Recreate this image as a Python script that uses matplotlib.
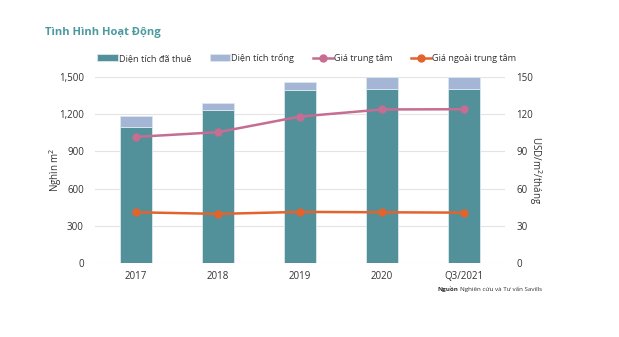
import matplotlib.pyplot as plt
import numpy as np
from matplotlib.ticker import FuncFormatter

plt.rcParams['font.family'] = ['Open Sans', 'DejaVu Sans']

years = ['2017', '2018', '2019', '2020', 'Q3/2021']
da_thue = [1095, 1235, 1393, 1404, 1404]      # Diện tích đã thuê
tong = [1185, 1291, 1463, 1500, 1500]         # tổng diện tích
trong = [t - d for t, d in zip(tong, da_thue)]  # Diện tích trống
gia_tt = [101.7, 105.5, 118.1, 123.8, 124.0]   # Giá trung tâm
gia_ntt = [40.9, 39.6, 41.2, 40.9, 40.6]       # Giá ngoài trung tâm

c_teal = '#52919a'
c_blue = '#a5b5d5'
c_pink = '#c66d92'
c_orange = '#e3632d'
c_text = '#333333'

fig = plt.figure(figsize=(6.19, 3.37), dpi=100)
ax = fig.add_axes([0.1535, 0.2196, 0.6625, 0.552])
x = np.arange(len(years))

b1 = ax.bar(x, da_thue, width=0.4, color=c_teal, ec='#dbe8ee', lw=0.6, label='Diện tích đã thuê', zorder=2)
b2 = ax.bar(x, trong, bottom=da_thue, width=0.4, color=c_blue, ec='#dbe8ee', lw=0.6, label='Diện tích trống', zorder=2)
ax.set_ylim(0, 1500)
ax.set_xlim(-0.5, 4.5)
ax.set_yticks(np.arange(0, 1501, 300))
ax.yaxis.set_major_formatter(FuncFormatter(lambda v, p: f'{int(v):,}'))
ax.grid(axis='y', color='#e4e4e4', lw=0.8, zorder=0)
ax.set_axisbelow(True)
ax.set_xticks(x)
ax.set_xticklabels(years)
ax.set_ylabel('Nghìn m$^2$', fontsize=7, color=c_text, labelpad=-4)

ax2 = ax.twinx()
l1, = ax2.plot(x, gia_tt, color=c_pink, lw=1.8, marker='o', ms=5, label='Giá trung tâm', zorder=3)
l2, = ax2.plot(x, gia_ntt, color=c_orange, lw=1.8, marker='o', ms=5, label='Giá ngoài trung tâm', zorder=3)
ax2.set_ylim(0, 150)
ax2.set_yticks(np.arange(0, 151, 30))
ax2.set_ylabel('USD/m$^2$/tháng', fontsize=7, color=c_text, rotation=270, labelpad=8)

for a in (ax, ax2):
    for s in a.spines.values():
        s.set_visible(False)
    a.tick_params(length=0, labelsize=7, labelcolor=c_text)
ax.tick_params(axis='y', pad=8)
ax.tick_params(axis='x', pad=6)
ax2.tick_params(axis='y', pad=8)

fig.text(45 / 619, 1 - 33 / 337, 'Tình Hình Hoạt Động', fontsize=8, fontweight='bold',
         color='#4a9a9e', va='center', ha='left')

fig.legend(handles=[b1, b2, l1, l2], loc='center', bbox_to_anchor=(307 / 619, 1 - 58 / 337),
           ncol=4, frameon=False, fontsize=6.6, handlelength=2.2, handletextpad=0.15,
           columnspacing=2.0, labelcolor=c_text)

# nguồn
t1 = fig.text(438 / 619, 1 - 289 / 337, 'Nguồn', fontsize=4.5, fontweight='bold', color=c_text, va='center')
ax.annotate('Nghiên cứu và Tư vấn Savills', xy=(1, 0.5), xycoords=t1, xytext=(0.5, 0),
            textcoords='offset points', fontsize=4.5, color=c_text, va='center', annotation_clip=False)

fig.savefig('out.png', dpi=100)
